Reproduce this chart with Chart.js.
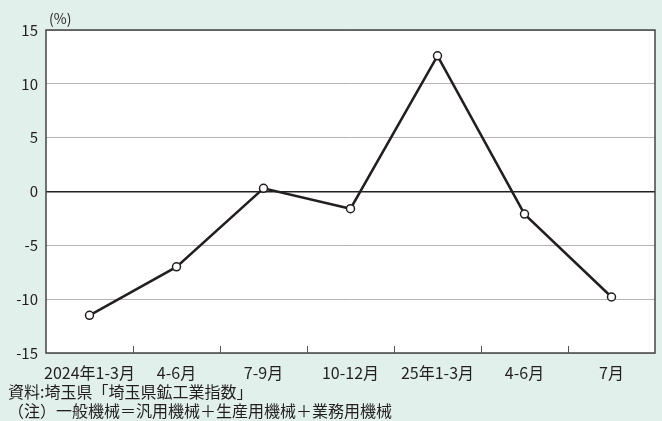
<!DOCTYPE html>
<html lang="ja">
<head>
<meta charset="utf-8">
<script src="https://cdn.jsdelivr.net/npm/chart.js@4/dist/chart.umd.min.js"></script>
<style>
  html, body { margin: 0; padding: 0; }
  body { width: 662px; height: 421px; background: #e1f0eb; position: relative; overflow: hidden;
         font-family: "Noto Sans CJK JP", "Noto Sans", sans-serif; color: #231f20; }
  #wrap { position: absolute; left: 0; top: 0; width: 662px; height: 421px; }
  .note { position: absolute; left: 8px; font-size: 16px; line-height: 19px; white-space: nowrap; }
  #unit { position: absolute; left: 49px; top: 8px; font-size: 14px; }
</style>
</head>
<body>
<div id="wrap"><canvas id="chart"></canvas></div>
<div id="unit">(%)</div>
<div class="note" style="top:382px">資料:埼玉県「埼玉県鉱工業指数」</div>
<div class="note" style="top:401px">（注）一般機械＝汎用機械＋生産用機械＋業務用機械</div>
<script>
// =======================
// DATA
// =======================
const categories = ["2024年1-3月", "4-6月", "7-9月", "10-12月", "25年1-3月", "4-6月", "7月"];
const growthRate = [-11.5, -7.0, 0.3, -1.6, 12.6, -2.1, -9.8];
const yTicks = [15, 10, 5, 0, -5, -10, -15];

const ink = "#231f20";

// white plot area
const plotBgPlugin = {
  id: "plotBg",
  beforeDraw(chart) {
    const { ctx, chartArea: a } = chart;
    ctx.save();
    ctx.fillStyle = "#ffffff";
    ctx.fillRect(a.left, a.top, a.right - a.left, a.bottom - a.top);
    ctx.restore();
  }
};

// frame around the plot + short inward ticks between categories
const framePlugin = {
  id: "frame",
  afterDraw(chart) {
    const { ctx, chartArea: a, scales: { x } } = chart;
    ctx.save();
    ctx.strokeStyle = "#444";
    ctx.lineWidth = 1.5;
    ctx.strokeRect(a.left, a.top, a.right - a.left, a.bottom - a.top);
    ctx.lineWidth = 1;
    ctx.strokeStyle = "#555";
    for (let i = 1; i < categories.length; i++) {
      const px = Math.round((x.getPixelForValue(i - 1) + x.getPixelForValue(i)) / 2) + 0.5;
      ctx.beginPath();
      ctx.moveTo(px, a.bottom);
      ctx.lineTo(px, a.bottom - 7);
      ctx.stroke();
    }
    ctx.restore();
  }
};

Chart.defaults.font.family = '"Noto Sans CJK JP", "Noto Sans", sans-serif';
Chart.defaults.color = ink;

new Chart(document.getElementById("chart"), {
  type: "line",
  data: {
    labels: categories,
    datasets: [{
      data: growthRate,
      borderColor: ink,
      borderWidth: 2.5,
      tension: 0,
      pointRadius: 4,
      pointBorderWidth: 1.5,
      pointBackgroundColor: "#ffffff",
      pointBorderColor: ink
    }]
  },
  options: {
    responsive: true,
    maintainAspectRatio: false,
    animation: false,
    layout: { padding: { top: 30, right: 7, bottom: 0, left: 0 } },
    plugins: { legend: { display: false }, tooltip: { enabled: false } },
    scales: {
      x: {
        offset: true,
        grid: { display: false },
        border: { display: false },
        ticks: { font: { size: 16 }, padding: 2, maxRotation: 0, autoSkip: false },
        afterFit: s => { s.height = 68; }
      },
      y: {
        min: -15,
        max: 15,
        afterBuildTicks: s => { s.ticks = yTicks.map(v => ({ value: v })); },
        grid: {
          drawTicks: false,
          color: c => c.tick && c.tick.value === 0 ? "#222" : "#b4b4b4",
          lineWidth: c => c.tick && c.tick.value === 0 ? 1.5 : 1
        },
        border: { display: false },
        ticks: { font: { size: 15 }, padding: 8 },
        afterFit: s => { s.width = 46; }
      }
    }
  },
  plugins: [plotBgPlugin, framePlugin]
});
</script>
</body>
</html>
